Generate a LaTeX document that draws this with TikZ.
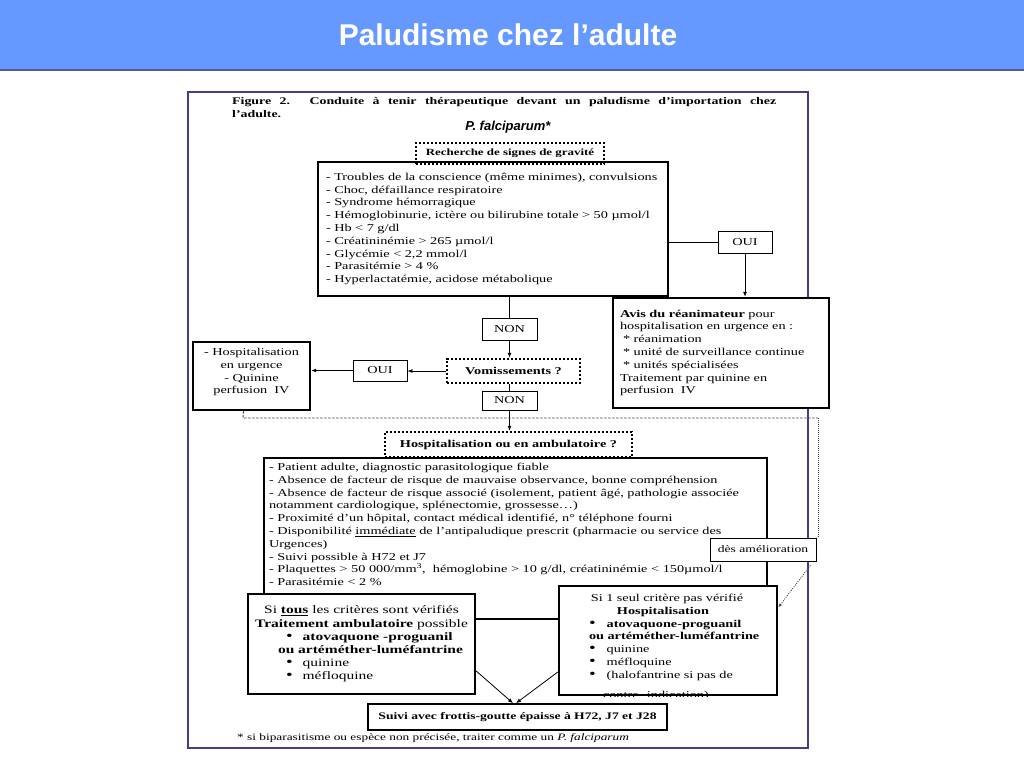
\documentclass[tikz,border=0pt]{standalone}
\usepackage{fontspec}
\setmainfont{Liberation Serif}[FakeStretch=1.36]
\newfontfamily\slidefont{Liberation Sans}
\usepackage{xcolor}
\usetikzlibrary{arrows.meta}
\definecolor{slideblue}{RGB}{102,153,255}
\definecolor{slideedge}{RGB}{84,92,150}
\definecolor{framepurple}{RGB}{66,62,140}
\definecolor{scangray}{RGB}{70,70,70}
\newcommand{\bigdot}{{\fontsize{14}{13}\selectfont\textbullet}}

\begin{document}
\begin{tikzpicture}[x=1pt, y=-1pt,
    box/.style={draw, line width=2.4pt, fill=white, inner sep=0pt},
    thinbox/.style={draw, line width=0.8pt, fill=white, inner sep=0pt, font=\fontsize{10.5}{12}\selectfont},
    dotbox/.style={draw, line width=2.4pt, dash pattern=on 2.4pt off 1.6pt, inner sep=0pt, font=\bfseries\fontsize{10.5}{12}\selectfont},
    body/.style={font=\fontsize{10.5}{12.8}\selectfont, align=left},
    wire/.style={line width=0.8pt},
    link/.style={line width=0.8pt, -{Latex[length=5pt,width=4pt]}},
    feedback/.style={scangray, line width=0.9pt, dash pattern=on 2.5pt off 1.5pt}]
    \useasboundingbox (0,0) rectangle (1024,768);
    \fill[slideblue] (0,0) rectangle (1024,70);
    \draw[slideedge, line width=2pt] (0,70) -- (1024,70);
    \node[text=white, font=\slidefont\bfseries\fontsize{30}{34}\selectfont] (title) at (508,35) {Paludisme chez l’adulte};
    \draw[framepurple, line width=2pt] (188,92) rectangle (808,748);

    \node[anchor=north west, inner sep=0pt, align=left, font=\bfseries\fontsize{10.2}{13}\selectfont] (caption) at (232,97)
      {\makebox[544pt][s]{Figure 2. Conduite à tenir thérapeutique devant un paludisme d’importation chez}\\l’adulte.};
    \node[font=\slidefont\bfseries\itshape\fontsize{13}{15}\selectfont] (species) at (508,127) {P. falciparum*};

    \node[box, body, minimum width=350, minimum height=134, text width=334pt] (gravity) at (493,229)
      {- Troubles de la conscience (même minimes), convulsions\\
       - Choc, défaillance respiratoire\\
       - Syndrome hémorragique\\
       - Hémoglobinurie, ictère ou bilirubine totale > 50 µmol/l\\
       - Hb < 7 g/dl\\
       - Créatininémie > 265 µmol/l\\
       - Glycémie < 2,2 mmol/l\\
       - Parasitémie > 4 \%\\
       - Hyperlactatémie, acidose métabolique};
    \node[dotbox, font=\bfseries\fontsize{9.5}{12}\selectfont, minimum width=188, minimum height=21] (search) at (510,153.5) {Recherche de signes de gravité};

    \node[thinbox, minimum width=54, minimum height=22] (ouiR) at (745,242) {OUI};
    \node[box, body, minimum width=216, minimum height=110, text width=202pt] (icu) at (721,353)
      {\textbf{Avis du réanimateur} pour\\
       hospitalisation en urgence en :\\
       \hspace*{3pt}* réanimation\\
       \hspace*{3pt}* unité de surveillance continue\\
       \hspace*{3pt}* unités spécialisées\\
       Traitement par quinine en\\
       perfusion\ \ IV};

    \node[thinbox, minimum width=55, minimum height=22] (non1) at (509.5,329) {NON};
    \node[dotbox, minimum width=133, minimum height=24] (vomit) at (513.5,371) {Vomissements ?};
    \node[thinbox, minimum width=54, minimum height=21] (ouiL) at (380,370.5) {OUI};
    \node[box, body, align=center, text depth=10pt, minimum width=117, minimum height=68] (hospurg) at (251.5,376)
      {- Hospitalisation\\en urgence\\- Quinine\\perfusion\ \ IV};
    \node[thinbox, minimum width=55, minimum height=19] (non2) at (509.5,400.5) {NON};

    \node[box, minimum width=503, minimum height=161] (criteria) at (515.5,538.5) {};
    \node[anchor=north west, inner sep=0pt, body] (criteriaText) at ([shift={(6pt,-6pt)}]criteria.north west)
      {- Patient adulte, diagnostic parasitologique fiable\\
       - Absence de facteur de risque de mauvaise observance, bonne compréhension\\
       - Absence de facteur de risque associé (isolement, patient âgé, pathologie associée\\
       notamment cardiologique, splénectomie, grossesse…)\\
       - Proximité d’un hôpital, contact médical identifié, n° téléphone fourni\\
       - Disponibilité \underline{immédiate} de l’antipaludique prescrit (pharmacie ou service des\\
       Urgences)\\
       - Suivi possible à H72 et J7\\
       - Plaquettes > 50 000/mm\textsuperscript{3},\ \ hémoglobine > 10 g/dl, créatininémie < 150µmol/l\\
       - Parasitémie < 2 \%};
    \node[dotbox, minimum width=247, minimum height=25] (hospamb) at (508.5,444.5) {Hospitalisation ou en ambulatoire ?};
    \node[thinbox, font=\fontsize{10}{12}\selectfont, minimum width=106, minimum height=23] (ameli) at (763,549.5) {dès amélioration};

    \node[box, minimum width=227, minimum height=100, text width=211pt, align=left,
          font=\fontsize{11.4}{13.2}\selectfont] (ambu) at (361.5,644)
      {\makebox[211pt]{Si \underline{\textbf{tous}} les critères sont vérifiés}\\
       \makebox[211pt]{\textbf{Traitement ambulatoire} possible}\\
       \hspace*{30pt}\bigdot\hspace{10pt}\textbf{atovaquone -proguanil}\\
       \hspace*{22pt}\textbf{ou artéméther-luméfantrine}\\
       \hspace*{30pt}\bigdot\hspace{10pt}quinine\\
       \hspace*{30pt}\bigdot\hspace{10pt}méfloquine};
    \node[box, minimum width=218, minimum height=109] (hosp) at (668,640.5) {};
    \begin{scope}
      \clip (hosp.south west) rectangle (hosp.north east);
      \node[anchor=north west, inner sep=0pt, text width=202pt, body] (hospText) at ([shift={(8pt,-9pt)}]hosp.north west)
        {\makebox[202pt]{Si 1 seul critère pas vérifié}\\
         \makebox[194pt]{\textbf{Hospitalisation}}\\
         \hspace*{23pt}\bigdot\hspace{11pt}\textbf{atovaquone-proguanil}\\
         \hspace*{23pt}\textbf{ou artéméther-luméfantrine}\\
         \hspace*{23pt}\bigdot\hspace{11pt}quinine\\
         \hspace*{23pt}\bigdot\hspace{11pt}méfloquine\\
         \hspace*{23pt}\bigdot\hspace{11pt}(halofantrine si pas de\\[7pt]
         \hspace*{37pt}contre- indication)};
    \end{scope}
    \node[box, line width=1.6pt, minimum width=299, minimum height=26, font=\bfseries\fontsize{10}{12}\selectfont] (suivi) at (517.5,717)
      {Suivi avec frottis-goutte épaisse à H72, J7 et J28};
    \node[anchor=west, inner sep=0pt, font=\fontsize{9.8}{11}\selectfont] (footnote) at (237,738)
      {* si biparasitisme ou espèce non précisée, traiter comme un \textit{P. falciparum}};

    \draw[wire] (gravity.east |- ouiR) -- (ouiR.west);
    \draw[link] (ouiR.south) -- (ouiR.south |- icu.north);
    \draw[wire] (non1.north |- gravity.south) -- (non1.north);
    \draw[link] (non1.south) -- (non1.south |- vomit.north);
    \draw[link] (vomit.west) -- (vomit.west -| ouiL.east);
    \draw[link] (ouiL.west) -- (ouiL.west -| hospurg.east);
    \draw[wire] (non2.north |- vomit.south) -- (non2.north);
    \draw[link] (non2.south) -- (non2.south |- hospamb.north);

    \coordinate (fbL) at (243,418);
    \coordinate (fbR) at (818,418);
    \draw[feedback] ([xshift=-8pt]hospurg.south) -- (fbL) -- (fbR);
    \draw[feedback, dash pattern=on 1pt off 1pt] (fbR) -- (fbR |- ameli.north);
    \draw[feedback, dash pattern=on 1pt off 1.2pt, -{Latex[length=4pt,width=3pt]}] ([xshift=-6pt,yshift=-4pt]ameli.south east) -- ([yshift=33pt]hosp.east);

    \draw[link] ([yshift=-27pt]ambu.east) -- ([xshift=-4.5pt]suivi.north);
    \draw[link] ([yshift=-31.5pt]hosp.west) -- ([xshift=-1.5pt]suivi.north);
  \end{tikzpicture}
\end{document}
